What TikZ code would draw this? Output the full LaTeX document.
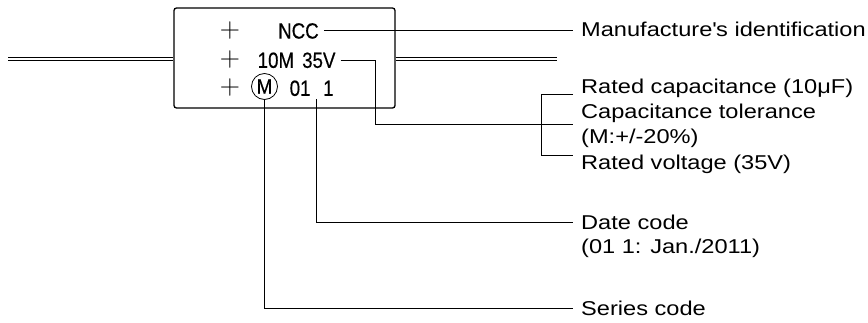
\documentclass[tikz,border=0pt]{standalone}
\usepackage{fontspec}
\newfontfamily\labfont[FakeStretch=1.18]{Liberation Sans}
\newfontfamily\boxfont[FakeStretch=0.85,FakeBold=0.4]{Liberation Sans}
\newfontfamily\circfont[FakeStretch=0.9,FakeBold=0.4]{Liberation Sans}
\usetikzlibrary{calc}
\begin{document}
\begin{tikzpicture}[x=1pt,y=-1pt,
  lbl/.style={anchor=west, inner xsep=8pt, inner ysep=0pt, text height=14.3pt, text depth=0pt,
              font=\labfont\fontsize{20}{20}\selectfont},
  bxt/.style={anchor=west, inner sep=0pt, text height=15.7pt, text depth=0pt,
              font=\boxfont\fontsize{22}{22}\selectfont},
  plussign/.style={inner sep=0pt, font=\fontsize{28}{28}\selectfont},
  leader/.style={line width=0.8pt},
  leadwire/.style={double, double distance=2pt, line width=0.9pt},
  bodybox/.style={draw, line width=1.3pt, rounded corners=2.5pt, minimum width=221pt,
                  minimum height=100pt, inner sep=0pt},
  circm/.style={draw, circle, line width=0.8pt, minimum size=26pt, inner sep=0pt,
                font=\circfont\fontsize{21}{21}\selectfont}]
\useasboundingbox (0,0) rectangle (868,322);

% capacitor body and leads
\node[bodybox] (body) at (284.5,58) {};
\coordinate (leadL) at (8,59);
\coordinate (leadR) at (557,59);
\draw[leadwire] (leadL) -- (leadL -| body.west);
\draw[leadwire] (leadR -| body.east) -- (leadR);

% markings
\node[plussign] (p1) at (230,30.7) {+};
\node[plussign] (p2) at (230,60) {+};
\node[plussign] (p3) at (230,88) {+};
\node[bxt] (ncc) at (278,30.7) {NCC};
\node[bxt] (m10) at (257.5,60) {10M};
\node[bxt] (v35) at (302,60) {35V};
\node[circm] (mc) at (264.5,86.5) {M};
\node[bxt] (d01) at (289.5,88) {01};
\node[bxt] (d1) at (323,88) {1};

% labels
\node[lbl] (mfr) at (573,29) {Manufacture\textquotesingle s identification};
\node[lbl] (c1) at (573,86.8) {Rated capacitance (10μF)};
\node[lbl] (c2) at (573,111.8) {Capacitance tolerance};
\node[lbl] (c3) at (573,136.8) {(M:+/-20\%)};
\node[lbl] (c4) at (573,162.3) {Rated voltage (35V)};
\node[lbl] (dc) at (573,222) {Date code};
\node[lbl] (dd) at (573,246) {(01 1: Jan./2011)};
\node[lbl] (sc) at (573,308) {Series code};

% leaders
\draw[leader, shorten <=5pt] (ncc.east) -- (ncc.east -| mfr.west);
\draw[leader, shorten <=5pt] (v35.east) -- ++(40,0) |- ($(c2.west)!.5!(c3.west)$);
\draw[leader] (c1.south west) -- ++(-32,0) |- (c4.north west);
\coordinate (dtop) at ($(d01.south east)!.5!(d1.south west)$);
\draw[leader, shorten <=3pt] (dtop) |- (dc.west);
\draw[leader] (mc.south) |- (sc.west);
\end{tikzpicture}
\end{document}
